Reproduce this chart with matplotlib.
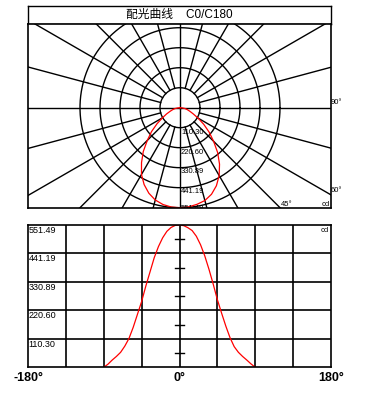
import numpy as np
import matplotlib
matplotlib.use("Agg")
import matplotlib.pyplot as plt

plt.rcParams['font.family'] = ['Liberation Sans', 'Noto Sans CJK SC', 'DejaVu Sans']

# intensity distribution (cd), C0/C180 plane
angles = [-90, -85, -80, -75, -70, -65, -60, -55, -50, -45, -40, -35, -30, -25, -20, -15, -10, -5,
          0, 5, 10, 15, 20, 25, 30, 35, 40, 45, 50, 55, 60, 65, 70, 75, 80, 85, 90]
intensity = [0, 12, 28, 42, 58, 82, 112, 155, 205, 255, 315, 370, 425, 468, 502, 527, 542, 550,
             551.49, 549, 541, 530, 508, 475, 432, 380, 323, 262, 210, 160, 115, 80, 58, 42, 28, 13, 0]
ring_values = [110.30, 220.60, 330.89, 441.19, 551.49]
ring_labels = ['110.30', '220.60', '330.89', '441.19', '551.49']
x_labels = ['-180°', '0°', '180°']
x_label_pos = [-180, 0, 180]
title = '配光曲线    C0/C180'

W, H = 376, 393
fig = plt.figure(figsize=(W / 100, H / 100), dpi=100)
fig.patch.set_facecolor('white')


def fbox(x0, y0, x1, y1):
    # pixel box (top-left origin) -> figure fraction
    return [x0 / W, (H - y1) / H, (x1 - x0) / W, (y1 - y0) / H]


# title bar
tax = fig.add_axes(fbox(28, 6, 331, 24))
tax.set_xticks([])
tax.set_yticks([])
for s in tax.spines.values():
    s.set_linewidth(1.0)
tax.text(0.5, 0.5, title, ha='center', va='center', fontsize=8.5, transform=tax.transAxes)

# polar diagram drawn on cartesian axes, 1 unit = 1 px, 100 px = max
ax = fig.add_axes(fbox(28, 24, 331, 208))
ax.set_xlim(-152, 151)
ax.set_ylim(-100.3, 83.7)
ax.set_xticks([])
ax.set_yticks([])
for s in ax.spines.values():
    s.set_linewidth(1.2)

vmax = ring_values[-1]
t = np.linspace(0, 2 * np.pi, 400)
for v in ring_values:
    r = v / vmax * 100
    ax.plot(r * np.cos(t), r * np.sin(t), color='black', lw=1.0)

r0 = ring_values[0] / vmax * 100
for a in range(0, 360, 15):
    th = np.radians(a)
    if a % 90 == 0:
        ax.plot([0, 400 * np.sin(th)], [0, -400 * np.cos(th)], color='black', lw=1.0)
    else:
        ax.plot([r0 * np.sin(th), 400 * np.sin(th)], [-r0 * np.cos(th), -400 * np.cos(th)],
                color='black', lw=1.0)

th = np.radians(angles)
rr = np.array(intensity) / vmax * 100
ax.plot(rr * np.sin(th), -rr * np.cos(th), color='#ff0000', lw=0.9)

for v, lab in zip(ring_values, ring_labels):
    r = v / vmax * 100
    y = max(-r - 4.3, -100.5)
    ax.text(1, y, lab, ha='left', va='center', fontsize=5.5, clip_on=True)

fig.text(331 / W, (H - 103) / H, '90°', ha='left', va='center', fontsize=5.5)
fig.text(331 / W, (H - 191) / H, '60°', ha='left', va='center', fontsize=5.5)
fig.text(281 / W, (H - 204) / H, '45°', ha='left', va='center', fontsize=5.5)
fig.text(330 / W, (H - 204) / H, 'cd', ha='right', va='center', fontsize=5.5)

# cartesian diagram
bx = fig.add_axes(fbox(28, 225, 331, 367.3))
bx.set_xlim(-180, 180)
bx.set_ylim(0, vmax)
bx.set_xticks([])
bx.set_yticks([])
for s in bx.spines.values():
    s.set_linewidth(1.2)
for x in range(-135, 180, 45):
    bx.axvline(x, color='black', lw=1.2)
for v in ring_values[:-1]:
    bx.axhline(v, color='black', lw=1.2)
for i in range(len(ring_values)):
    mid = (i + 0.5) * ring_values[0]
    bx.plot([-5.9, 5.9], [mid, mid], color='black', lw=1.0)

bx.plot(angles, intensity, color='#ff0000', lw=0.9)

for v, lab in zip(ring_values, ring_labels):
    bx.text(-179.5, v - 20, lab, ha='left', va='center', fontsize=6.5)
bx.text(178, vmax - 20, 'cd', ha='right', va='center', fontsize=5.5)

for xp, lab in zip(x_label_pos, x_labels):
    px = 28 + (xp + 180) / 360 * 303
    fig.text(px / W, (H - 378) / H, lab, ha='center', va='center', fontsize=9, fontweight='bold')

fig.savefig('out.png', dpi=100, facecolor='white')
